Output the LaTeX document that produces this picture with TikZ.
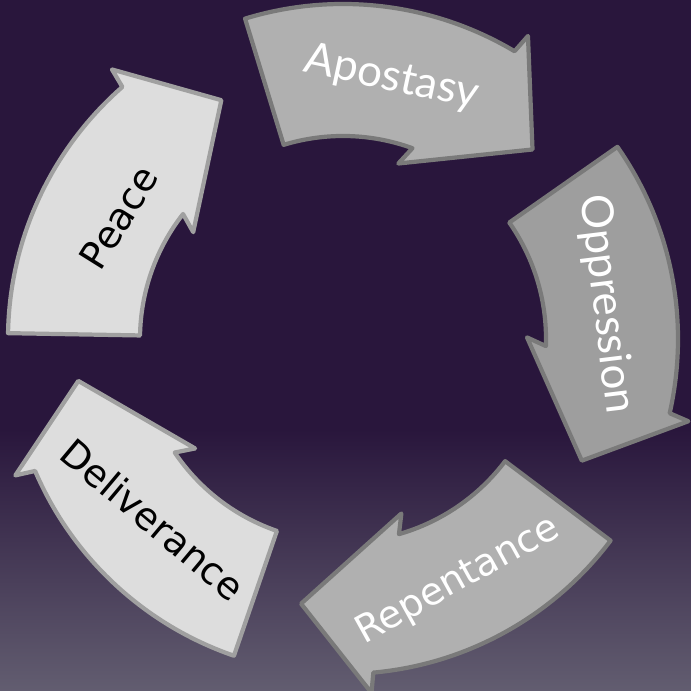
\documentclass[tikz,border=0pt]{standalone}
\usepackage{fontspec}
\newfontfamily\gillfont{Lato}
\newfontfamily\verdfont{DejaVu Sans}
\usepackage{tikz}
\usetikzlibrary{shapes.geometric,positioning}
\definecolor{bgpurple}{RGB}{41,22,60}
\definecolor{bglight}{RGB}{98,93,112}
\definecolor{midgray}{RGB}{176,176,176}
\definecolor{deepgray}{RGB}{158,158,158}
\definecolor{palegray}{RGB}{221,221,221}
\definecolor{rimdark}{RGB}{122,122,122}
\definecolor{rimlight}{RGB}{160,160,160}

\begin{document}
\begin{tikzpicture}
\tikzstyle{grayarrow}=[fill=midgray,draw=rimdark,line width=1.2pt,line join=round]
\tikzstyle{palearrow}=[fill=palegray,draw=rimlight,line width=1.2pt,line join=round]
\tikzstyle{gilltext}=[text=white,inner sep=0pt,
font=\gillfont\fontsize{12.5}{15}\selectfont]
\tikzstyle{verdtext}=[text=black,inner sep=0pt,
font=\verdfont\fontsize{10.8}{13}\selectfont]

% background
\fill[bgpurple] (-3.43,-3.52) rectangle (3.48,3.39);
\shade[top color=bgpurple,bottom color=bglight] (-3.43,-3.52) rectangle (3.48,-0.9);
\useasboundingbox (-3.43,-3.52) rectangle (3.48,3.39);

% the five arrows, clockwise
\draw[grayarrow] (107:2.03) -- (107:3.35) arc[start angle=107,end angle=59.2,radius=3.35]
 -- (58.6:3.55) -- (45:2.68) -- (72.5:1.84) -- (70:2.03)
 arc[start angle=70,end angle=107,radius=2.03] -- cycle;
\draw[grayarrow,fill=deepgray] (35:2.03) -- (35:3.35) arc[start angle=35,end angle=-12.8,radius=3.35]
 -- (-13.4:3.55) -- (-27:2.68) -- (0.5:1.84) -- (-2:2.03)
 arc[start angle=-2,end angle=35,radius=2.03] -- cycle;
\draw[grayarrow] (-37:2.03) -- (-37:3.35) arc[start angle=-37,end angle=-84.8,radius=3.35]
 -- (-85.4:3.55) -- (-99:2.68) -- (-71.5:1.84) -- (-74:2.03)
 arc[start angle=-74,end angle=-37,radius=2.03] -- cycle;
\draw[palearrow] (-109:2.03) -- (-109:3.35) arc[start angle=-109,end angle=-156.8,radius=3.35]
 -- (-157.4:3.55) -- (-171:2.68) -- (-143.5:1.84) -- (-146:2.03)
 arc[start angle=-146,end angle=-109,radius=2.03] -- cycle;
\draw[palearrow] (179:2.03) -- (179:3.35) arc[start angle=179,end angle=131.2,radius=3.35]
 -- (130.6:3.55) -- (117:2.68) -- (144.5:1.84) -- (142:2.03)
 arc[start angle=142,end angle=179,radius=2.03] -- cycle;

% labels
\node[gilltext,rotate=-12] (apostasy) at (79.5:2.65) {Apostasy};
\node[gilltext,rotate=-83] (oppression) at (7.5:2.65) {Oppression};
\node[verdtext,text=white,rotate=29] (repentance) at (-64.5:2.68) {Repentance};
\node[verdtext,rotate=-40] (deliverance) at (-136.5:2.62) {Deliverance};
\node[verdtext,rotate=58] (peace) at (151.5:2.55) {Peace};

\end{tikzpicture}
\end{document}
